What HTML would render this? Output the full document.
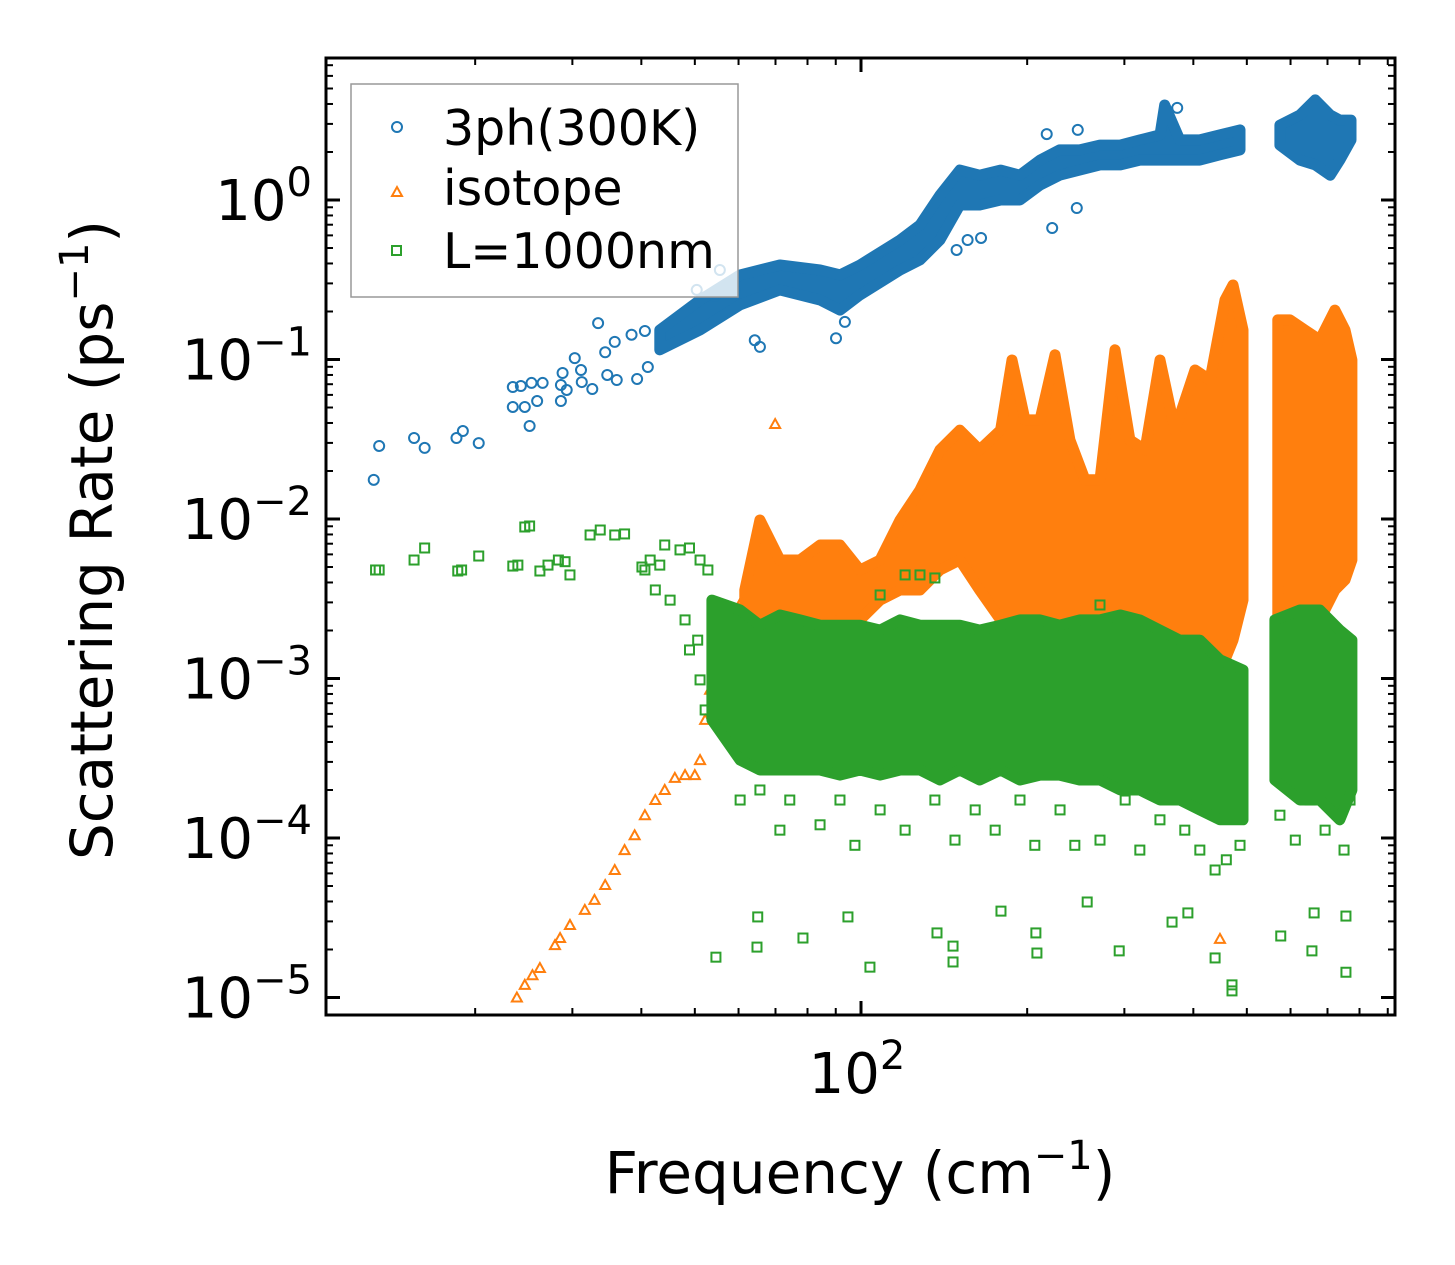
<!DOCTYPE html>
<html><head><meta charset="utf-8"><style>
html,body{margin:0;padding:0;background:#fff}
svg{display:block;font-family:"DejaVu Sans","Liberation Sans",sans-serif}
</style></head><body>
<svg id="chart" width="1455" height="1265" viewBox="0 0 1455 1265" xmlns="http://www.w3.org/2000/svg">
<rect x="0" y="0" width="1455" height="1265" fill="#fff"/>
<g id="plot"></g>
<g id="axes"></g>
<text x="860" y="1193" font-size="58" text-anchor="middle">Frequency (cm<tspan dy="-24" font-size="40">−1</tspan><tspan dy="24">)</tspan></text>
<text transform="translate(112,540) rotate(-90)" font-size="58" text-anchor="middle">Scattering Rate (ps<tspan dy="-24" font-size="40">−1</tspan><tspan dy="24">)</tspan></text>
<g>
<rect x="351" y="84" width="387" height="213" fill="rgba(255,255,255,0.8)" stroke="#999" stroke-width="1.5"/>
<circle cx="397" cy="127" r="5" fill="none" stroke="#1f77b4" stroke-width="2"/>
<text x="443" y="145" font-size="49">3ph(300K)</text>
<path d="M392,196 L402,196 L397,187 Z" fill="none" stroke="#ff7f0e" stroke-width="2"/>
<text x="443" y="205" font-size="49">isotope</text>
<rect x="392" y="246" width="9" height="9" fill="none" stroke="#2ca02c" stroke-width="2"/>
<text x="443" y="268" font-size="49">L=1000nm</text>
</g>
</svg>
<script>
// ---- data ----
const blueBandF  = [43.2,51.1,60.4,71.3,84.3,91.6,99.6,117.7,127.9,139,151,164,179,194,211,229,249,271,295,320,348,355,378,411,447,486];
const blueBandHi = [0.153,0.236,0.339,0.391,0.364,0.339,0.391,0.561,0.697,1.07,1.54,1.43,1.54,1.43,1.78,2.06,2.06,2.21,2.21,2.38,2.56,3.94,2.38,2.38,2.56,2.75];
const blueBandLo = [0.115,0.153,0.220,0.273,0.236,0.204,0.254,0.364,0.421,0.561,0.93,0.93,1.0,1.0,1.24,1.43,1.54,1.66,1.66,1.78,1.78,1.78,1.78,1.78,1.92,2.06];
const blueBand2F  = [574,624,665,708,737,772];
const blueBand2Hi = [2.95,3.41,4.24,3.41,3.17,3.17];
const blueBand2Lo = [2.21,1.78,1.66,1.43,1.78,2.38];
const blueF = [13.1,13.4,15.5,16.2,18.5,19.0,20.3,23.4,23.4,24.2,24.6,25.1,25.3,25.9,26.5,28.6,28.6,28.8,29.3,30.3,31.1,31.2,32.6,33.4,34.4,34.7,35.8,36.1,38.4,40.6,39.3,41.1,55.5,50.4,54.4,59.1,64.2,65.6,90.1,93.5,156,149,165,222,246,217,247,374];
const blueV = [0.0176,0.0287,0.0322,0.0279,0.0322,0.0356,0.0299,0.0672,0.0504,0.0682,0.0504,0.0383,0.0713,0.0549,0.0713,0.0692,0.0549,0.0823,0.0644,0.102,0.0859,0.0722,0.0653,0.169,0.111,0.080,0.129,0.0744,0.143,0.151,0.0755,0.0897,0.364,0.273,0.250,0.27,0.132,0.120,0.136,0.172,0.561,0.486,0.578,0.667,0.891,2.59,2.75,3.78];

const orangeF = [23.8,24.6,25.4,26.2,27.9,28.5,29.7,31.6,32.9,34.4,35.8,37.3,38.9,40.6,42.4,44.1,46.0,48.0,50.0,51.1,52.2,53.3,54.4,55.5,57.4,59.1,60.9,69.9,447];
const orangeV = [1.0e-5,1.2e-5,1.38e-5,1.53e-5,2.13e-5,2.36e-5,2.85e-5,3.54e-5,4.09e-5,5.07e-5,6.3e-5,8.4e-5,1.04e-4,1.39e-4,1.73e-4,2.0e-4,2.38e-4,2.48e-4,2.48e-4,3.08e-4,5.5e-4,8.5e-4,1.13e-3,1.51e-3,1.87e-3,2.5e-3,3.1e-3,0.0394,2.33e-5];
const orangeBandF  = [61.6,65.6,71.3,77.5,84.3,91.6,99.6,108.3,117.7,127.9,139,151,164,179,187.7,198.2,211,224.6,239,254.6,271,288.5,307,327,348,370.6,402.8,428.8,456.4,472,492];
const orangeBandHi = [0.00359,0.00986,0.00553,0.00553,0.00687,0.00687,0.00479,0.00553,0.00986,0.0152,0.0271,0.0361,0.0271,0.0361,0.0993,0.0418,0.0418,0.107,0.0313,0.0176,0.0176,0.115,0.0313,0.0271,0.0993,0.0361,0.0859,0.0744,0.236,0.293,0.153];
const orangeBandLo = [0.00174,0.00151,0.00151,0.00201,0.00216,0.00233,0.00233,0.0031,0.00359,0.00359,0.00479,0.00553,0.00359,0.00233,0.00174,0.00151,0.00233,0.00233,0.00201,0.00174,0.00131,0.00131,0.00174,0.00174,0.00098,0.00131,0.00174,0.00151,0.00131,0.00174,0.0031];
const orangeBand2F  = [569,598.6,637,678,722,753,775];
const orangeBand2Hi = [0.177,0.177,0.153,0.1325,0.204,0.153,0.0993];
const orangeBand2Lo = [0.00233,0.00201,0.00201,0.00233,0.00359,0.00415,0.00553];

const greenF = [13.2,13.4,15.5,16.2,18.6,18.9,20.3,23.4,23.9,24.6,25.1,26.2,27.1,28.3,29.1,29.7,32.3,33.7,35.8,37.3,40.1,40.6,41.5,43.2,44.1,47.0,48.9,51.1,52.8,42.4,45.1,48.0,48.9,50.6,52.2,51.1,
 54.6,64.8,65.0,78.5,94.7,103.8,137.3,146.8,146.8,179.3,207.4,208.3,256.9,293.6,366,391,438,470,470,576,656,662,756,756,
 60.4,65.6,71.3,74.3,84.3,91.6,97.5,108.3,120.2,136.1,148,161,175,194.1,206.5,229.4,244,271,301,320,348,386,411,438,459,486,574,612,651,693,750,769,
 120.2,127.9,136.1,108.3,271];
const greenV = [0.00479,0.00479,0.00553,0.00658,0.00472,0.00479,0.00586,0.00507,0.00514,0.00891,0.00904,0.00472,0.00514,0.00553,0.0054,0.00446,0.00794,0.00853,0.00794,0.00806,0.0050,0.00479,0.00553,0.00514,0.00687,0.0064,0.00658,0.00553,0.00479,0.00359,0.0031,0.00233,0.00151,0.00174,0.000635,0.00098,
 1.79e-5,2.07e-5,3.2e-5,2.36e-5,3.2e-5,1.55e-5,2.54e-5,2.1e-5,1.67e-5,3.48e-5,2.54e-5,1.9e-5,3.97e-5,1.96e-5,2.97e-5,3.39e-5,1.77e-5,1.2e-5,1.1e-5,2.43e-5,1.96e-5,3.39e-5,3.24e-5,1.44e-5,
 1.73e-4,2.0e-4,1.12e-4,1.73e-4,1.21e-4,1.73e-4,9.0e-5,1.5e-4,1.12e-4,1.73e-4,9.7e-5,1.5e-4,1.12e-4,1.73e-4,9.0e-5,1.5e-4,9.0e-5,9.7e-5,1.73e-4,8.4e-5,1.3e-4,1.12e-4,8.4e-5,6.3e-5,7.3e-5,9.0e-5,1.39e-4,9.7e-5,1.73e-4,1.12e-4,8.4e-5,1.73e-4,
 0.00446,0.00446,0.00427,0.00334,0.00289];
const greenBandF  = [53.7,60.4,65.6,71.3,77.5,84.3,91.6,99.6,108.3,117.7,127.9,139,151,164,179,194,211,229,249,271,295,320,348,378,411,447,492];
const greenBandHi = [0.0031,0.00269,0.00216,0.0025,0.00233,0.00216,0.00216,0.00216,0.00201,0.00233,0.00216,0.00216,0.00216,0.00201,0.00216,0.00233,0.00233,0.00216,0.00233,0.00233,0.0025,0.00233,0.00201,0.00174,0.00174,0.00131,0.00113];
const greenBandLo = [0.00055,0.000308,0.000267,0.000267,0.000267,0.000267,0.000248,0.000267,0.000248,0.000267,0.000267,0.000231,0.000267,0.000231,0.000267,0.000231,0.000248,0.000248,0.000231,0.000231,0.0002,0.0002,0.000173,0.000173,0.00015,0.00013,0.00013];
const greenBand2F  = [562,624,678,737,775];
const greenBand2Hi = [0.00233,0.00269,0.00269,0.00201,0.00174];
const greenBand2Lo = [0.000231,0.000173,0.000173,0.00013,0.0002];

const yTickVals = [1,0.1,0.01,0.001,0.0001,0.00001];
const yTickExp = ["0","−1","−2","−3","−4","−5"];
const xMajorVals = [100];
const xMajorExp = ["2"];

// ---- axes ----
const L=326,R=1395,T=58,B=1015;
const sx = f => 861 + 552*Math.log10(f/100);
const sy = v => 200 - 159.5*Math.log10(v);
const NS="http://www.w3.org/2000/svg";
const plot=document.getElementById('plot'), axes=document.getElementById('axes');
function mk(tag,attrs,parent){const e=document.createElementNS(NS,tag);for(const k in attrs)e.setAttribute(k,attrs[k]);parent.appendChild(e);return e;}
const BLUE="#1f77b4",ORANGE="#ff7f0e",GREEN="#2ca02c";

function band(F,Hi,Lo,color,name){
  let d="";
  for(let i=0;i<F.length;i++) d+=(i?"L":"M")+sx(F[i]).toFixed(1)+","+sy(Hi[i]).toFixed(1);
  for(let i=F.length-1;i>=0;i--) d+="L"+sx(F[i]).toFixed(1)+","+sy(Lo[i]).toFixed(1);
  d+="Z";
  const p=mk('path',{d:d,fill:color,stroke:color,'stroke-width':11,'stroke-linejoin':'round'},plot);
  
  
}
function circ(F,V,name){
  for(let i=0;i<F.length;i++){
    const c=mk('circle',{cx:sx(F[i]),cy:sy(V[i]),r:5,fill:'none',stroke:BLUE,'stroke-width':2},plot);
    
    
  }
}
function tri(F,V,name){
  for(let i=0;i<F.length;i++){
    const x=sx(F[i]),y=sy(V[i]);
    const p=mk('path',{d:`M${x-5},${y+4}L${x+5},${y+4}L${x},${y-5}Z`,fill:'none',stroke:ORANGE,'stroke-width':2},plot);
    
    
  }
}
function sq(F,V,name){
  for(let i=0;i<F.length;i++){
    const r=mk('rect',{x:sx(F[i])-4.5,y:sy(V[i])-4.5,width:9,height:9,fill:'none',stroke:GREEN,'stroke-width':2},plot);
    
    
  }
}
band(blueBandF,blueBandHi,blueBandLo,BLUE,'3ph-band');
band(blueBand2F,blueBand2Hi,blueBand2Lo,BLUE,'3ph-band-high');
circ(blueF,blueV,'3ph-point');
band(orangeBandF,orangeBandHi,orangeBandLo,ORANGE,'isotope-band');
band(orangeBand2F,orangeBand2Hi,orangeBand2Lo,ORANGE,'isotope-band-high');
tri(orangeF,orangeV,'isotope-point');
band(greenBandF,greenBandHi,greenBandLo,GREEN,'boundary-band');
band(greenBand2F,greenBand2Hi,greenBand2Lo,GREEN,'boundary-band-high');
sq(greenF,greenV,'boundary-point');

// frame
const fr=mk('rect',{x:L,y:T,width:R-L,height:B-T,fill:'none',stroke:'#000','stroke-width':3},axes);


// y ticks
for(let e=-5;e<=0;e++){
  for(let m=1;m<10;m++){
    const y=sy(m*Math.pow(10,e));
    if(y<T||y>B) continue;
    const len=m===1?14:7, w=m===1?3:2;
    mk('line',{x1:L,y1:y,x2:L+len,y2:y,stroke:'#000','stroke-width':w},axes);
    mk('line',{x1:R,y1:y,x2:R-len,y2:y,stroke:'#000','stroke-width':w},axes);
  }
}
// x ticks
for(let e=1;e<=2;e++){
  for(let m=1;m<10;m++){
    const x=sx(m*Math.pow(10,e));
    if(x<L||x>R) continue;
    const len=m===1&&e===2?14:7, w=m===1&&e===2?3:2;
    mk('line',{x1:x,y1:B,x2:x,y2:B-len,stroke:'#000','stroke-width':w},axes);
    mk('line',{x1:x,y1:T,x2:x,y2:T+len,stroke:'#000','stroke-width':w},axes);
  }
}
// y tick labels
yTickVals.forEach((v,i)=>{
  const t=mk('text',{x:312,y:sy(v)+20,'font-size':56,'text-anchor':'end'},axes);
  
  
  t.innerHTML=`10<tspan dy="-24" font-size="40">${yTickExp[i]}</tspan>`;
});
xMajorVals.forEach((v,i)=>{
  const t=mk('text',{x:sx(v)-4,y:1093,'font-size':56,'text-anchor':'middle'},axes);
  
  
  t.innerHTML=`10<tspan dy="-24" font-size="40">${xMajorExp[i]}</tspan>`;
});
</script>
</body></html>
